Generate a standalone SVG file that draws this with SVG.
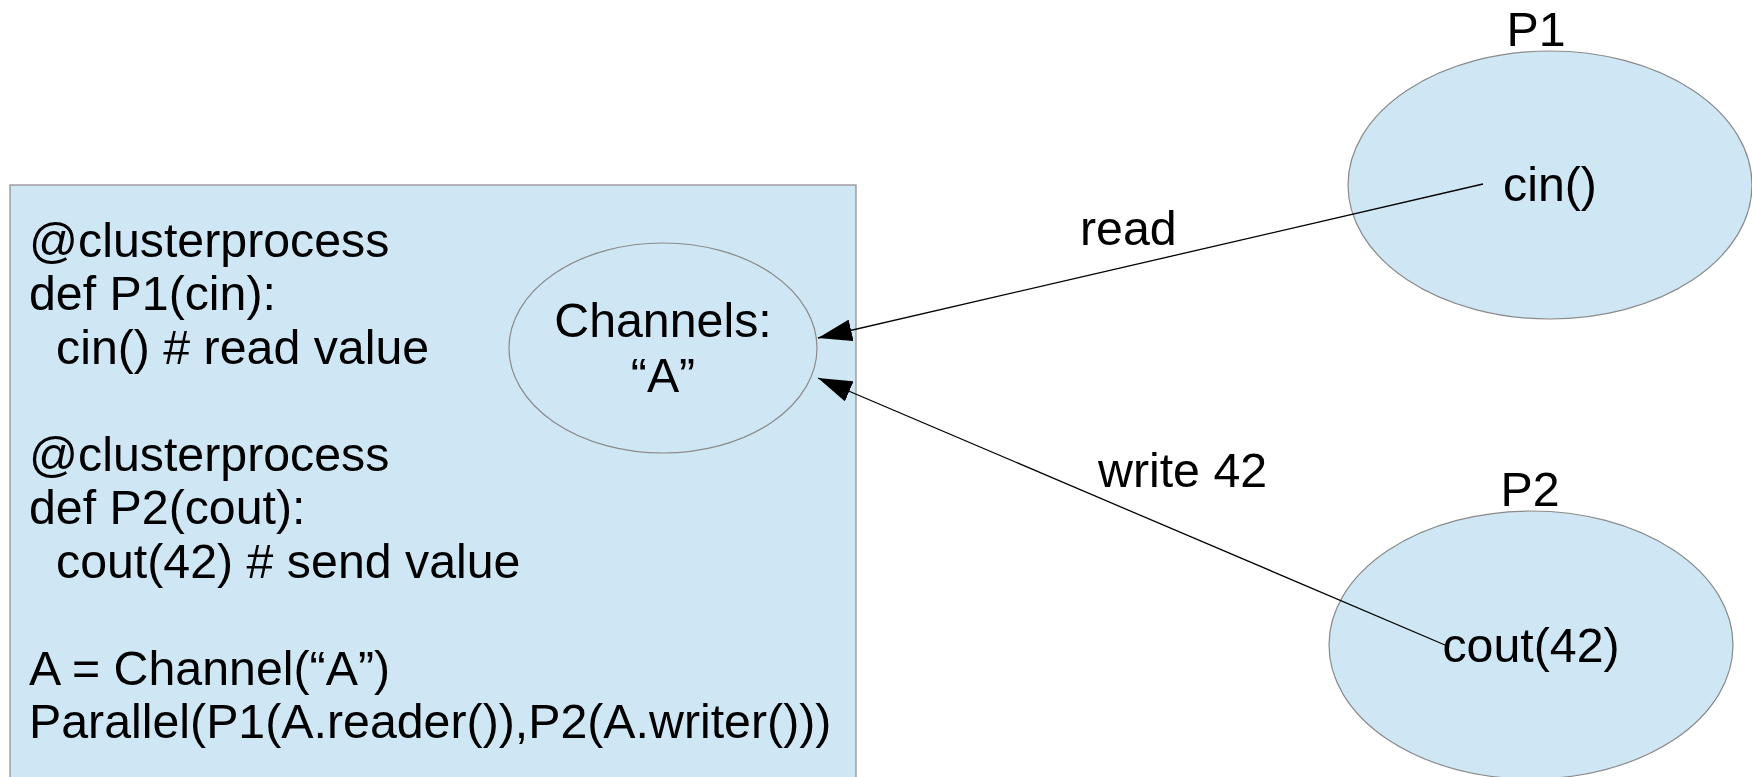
<svg xmlns="http://www.w3.org/2000/svg" width="1752" height="777" viewBox="0 0 1752 777">
  <style>
    .txt { font-family: "Liberation Sans", Arial, sans-serif; font-size: 48.3px; fill: #000; }
    .mid { text-anchor: middle; }
    .shape { fill: #cfe7f5; stroke: #8a8a8a; stroke-width: 1.2; }
    .conn { fill: none; stroke: #000; stroke-width: 1.3; }
  </style>
  <defs>
    <marker id="arrow" viewBox="0 0 34 22" refX="34" refY="11" markerWidth="34" markerHeight="22" markerUnits="userSpaceOnUse" orient="auto">
      <path d="M0,0 L34,11 L0,22 z" fill="#000"/>
    </marker>
  </defs>
  <rect width="1752" height="777" fill="#fff"/>

  <!-- code panel -->
  <g id="code">
    <rect class="shape" x="10" y="185" width="846" height="620"/>
    <text class="txt" x="29" y="257">@clusterprocess</text>
    <text class="txt" x="29" y="310">def P1(cin):</text>
    <text class="txt" x="56" y="364">cin() # read value</text>
    <text class="txt" x="29" y="471">@clusterprocess</text>
    <text class="txt" x="29" y="524">def P2(cout):</text>
    <text class="txt" x="56" y="578">cout(42) # send value</text>
    <text class="txt" x="29" y="685">A = Channel(“A”)</text>
    <text class="txt" x="29" y="738">Parallel(P1(A.reader()),P2(A.writer()))</text>
  </g>

  <!-- channel registry -->
  <g id="channels">
    <ellipse cx="663" cy="348" rx="154" ry="105" fill="none" stroke="#8a8a8a" stroke-width="1.2"/>
    <text class="txt mid" x="663" y="337">Channels:</text>
    <text class="txt mid" x="663" y="392">“A”</text>
  </g>

  <!-- process P1 -->
  <g id="p1">
    <ellipse class="shape" cx="1550" cy="185" rx="202" ry="134"/>
    <text class="txt mid" x="1536" y="46">P1</text>
    <text class="txt mid" x="1550" y="201">cin()</text>
  </g>

  <!-- process P2 -->
  <g id="p2">
    <ellipse class="shape" cx="1531" cy="645" rx="202" ry="134"/>
    <text class="txt mid" x="1530" y="506">P2</text>
    <text class="txt mid" x="1531" y="662">cout(42)</text>
  </g>

  <!-- connectors -->
  <g id="connectors">
    <line class="conn" x1="1483" y1="184" x2="818" y2="338" marker-end="url(#arrow)"/>
    <text class="txt" x="1080" y="245">read</text>
    <line class="conn" x1="1445" y1="645" x2="818" y2="378" marker-end="url(#arrow)"/>
    <text class="txt" x="1098" y="487">write 42</text>
  </g>
</svg>
